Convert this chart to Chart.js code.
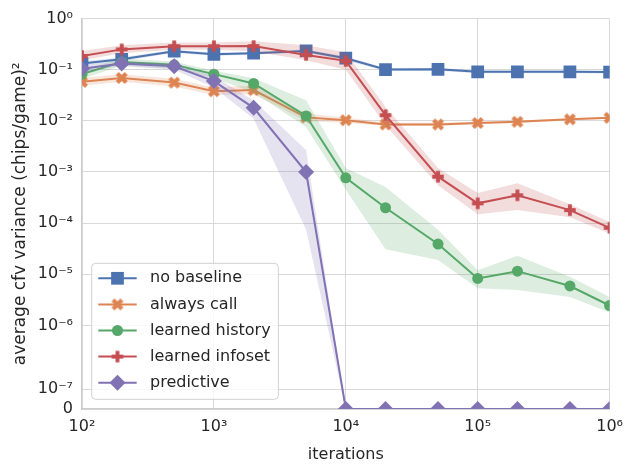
<!DOCTYPE html>
<html>
<head>
<meta charset="utf-8">
<script src="https://cdn.jsdelivr.net/npm/chart.js@4/dist/chart.umd.min.js"></script>
<style>
html, body { margin: 0; padding: 0; background: #ffffff; }
#wrap { width: 631px; height: 464px; }
</style>
</head>
<body>
<div id="wrap"><canvas id="c" width="631" height="464"></canvas></div>
<script>
// ---------------- data ----------------
const iterations = [100, 200, 500, 1000, 2000, 5000, 10000, 20000, 50000, 100000, 200000, 500000, 1000000];

const seriesNames = ['no baseline', 'always call', 'learned history', 'learned infoset', 'predictive'];

const noBaseline     = [0.132, 0.16, 0.23, 0.2, 0.21, 0.233, 0.168, 0.101, 0.102, 0.091, 0.091, 0.091, 0.09];
const noBaselineLow  = [0.118, 0.147, 0.215, 0.187, 0.197, 0.218, 0.152, 0.094, 0.095, 0.085, 0.085, 0.085, 0.084];
const noBaselineHigh = [0.146, 0.174, 0.246, 0.214, 0.224, 0.248, 0.182, 0.108, 0.109, 0.097, 0.097, 0.097, 0.096];

const alwaysCall     = [0.058, 0.069, 0.056, 0.038, 0.04, 0.0117, 0.0103, 0.0085, 0.0085, 0.0091, 0.0096, 0.0107, 0.0115];
const alwaysCallLow  = [0.048, 0.058, 0.047, 0.032, 0.033, 0.0098, 0.0092, 0.0079, 0.0079, 0.0086, 0.0091, 0.0102, 0.011];
const alwaysCallHigh = [0.07, 0.082, 0.067, 0.045, 0.049, 0.014, 0.0116, 0.0092, 0.0092, 0.0097, 0.0102, 0.0113, 0.0121];

const learnedHistory     = [0.082, 0.142, 0.125, 0.082, 0.054, 0.0125, 7.7e-4, 2.0e-4, 3.9e-5, 8.3e-6, 1.15e-5, 5.9e-6, 2.45e-6];
const learnedHistoryLow  = [0.066, 0.12, 0.105, 0.068, 0.036, 0.0076, 4.5e-4, 3.1e-5, 1.9e-5, 5.3e-6, 4.9e-6, 3.6e-6, 1.78e-6];
const learnedHistoryHigh = [0.1, 0.165, 0.145, 0.096, 0.068, 0.0254, 1.2e-3, 5.1e-4, 7.4e-5, 1.2e-5, 2.3e-5, 8.9e-6, 3.6e-6];

const learnedInfoset     = [0.186, 0.25, 0.288, 0.288, 0.29, 0.195, 0.149, 0.0129, 8.1e-4, 2.44e-4, 3.5e-4, 1.8e-4, 8.1e-5];
const learnedInfosetLow  = [0.153, 0.21, 0.245, 0.245, 0.23, 0.153, 0.1, 0.0082, 5.5e-4, 1.5e-4, 1.8e-4, 1.3e-4, 6.3e-5];
const learnedInfosetHigh = [0.233, 0.3, 0.34, 0.34, 0.36, 0.3, 0.22, 0.0187, 1.2e-3, 3.9e-4, 6.0e-4, 2.35e-4, 1.05e-4];

const predictive     = [0.105, 0.132, 0.117, 0.06, 0.018, 1.0e-3, 0, 0, 0, 0, 0, 0, 0];
const predictiveLow  = [0.09, 0.118, 0.1, 0.045, 0.011, 7.4e-5, 0, 0, 0, 0, 0, 0, 0];
const predictiveHigh = [0.12, 0.146, 0.135, 0.075, 0.025, 2.7e-3, 0, 0, 0, 0, 0, 0, 0];

const xTickValues = [1e2, 1e3, 1e4, 1e5, 1e6];
const xTickLabels = ['10²', '10³', '10⁴', '10⁵', '10⁶'];
const yTickValues = [0, 1e-7, 1e-6, 1e-5, 1e-4, 1e-3, 1e-2, 1e-1, 1];
const yTickLabels = ['0', '10⁻⁷', '10⁻⁶', '10⁻⁵', '10⁻⁴', '10⁻³', '10⁻²', '10⁻¹', '10⁰'];

const xTitle = 'iterations';
const yTitle = 'average cfv variance (chips/game)²';

// ---------------- styling ----------------
const FONT = '"DejaVu Sans", "Liberation Sans", sans-serif';
const TEXT = '#262626';
const colors = ['#4C72B0', '#DD8452', '#55A868', '#C44E52', '#8172B3'];
const bandColors = ['rgba(76,114,176,0.2)', 'rgba(221,132,82,0.2)', 'rgba(85,168,104,0.2)', 'rgba(196,78,82,0.2)', 'rgba(129,114,179,0.2)'];

function filledCross(kind, color, size) {
  const c = document.createElement('canvas');
  const s = Math.ceil(size) + 4;
  c.width = s; c.height = s;
  const g = c.getContext('2d');
  g.translate(s / 2, s / 2);
  let u = size / 6;
  if (kind === 'X') { g.rotate(Math.PI / 4); u = size / 5.66; }
  const pts = [[-1,-3],[1,-3],[1,-1],[3,-1],[3,1],[1,1],[1,3],[-1,3],[-1,1],[-3,1],[-3,-1],[-1,-1]];
  g.beginPath();
  pts.forEach(([a, b], i) => i ? g.lineTo(a * u, b * u) : g.moveTo(a * u, b * u));
  g.closePath();
  g.fillStyle = color;
  g.fill();
  return c;
}

const markerStyles = [
  {pointStyle: 'rect', pointRadius: 9},
  {pointStyle: filledCross('X', colors[1], 12), pointRadius: 6},
  {pointStyle: 'circle', pointRadius: 5.5},
  {pointStyle: filledCross('P', colors[3], 11.5), pointRadius: 6},
  {pointStyle: 'rectRot', pointRadius: 8}
];

// ---------------- custom y scale (log above thresholds, compressed near 0) ----------------
class CfvScale extends Chart.Scale {
  _u(v) {
    const o = this.options;
    if (!(v > 0)) return 0;
    if (v < o.linThresh) return o.linSpan * v / o.linThresh;
    if (v < o.midThresh) return o.linSpan + o.midScale * Math.log10(v / o.linThresh);
    return o.linSpan + o.midScale * Math.log10(o.midThresh / o.linThresh) + Math.log10(v / o.midThresh);
  }
  _inv(u) {
    const o = this.options;
    const uMid = o.linSpan + o.midScale * Math.log10(o.midThresh / o.linThresh);
    if (u <= 0) return 0;
    if (u < o.linSpan) return o.linThresh * u / o.linSpan;
    if (u < uMid) return o.linThresh * Math.pow(10, (u - o.linSpan) / o.midScale);
    return o.midThresh * Math.pow(10, u - uMid);
  }
  parse(raw) { return (raw === null || raw === undefined) ? null : +raw; }
  determineDataLimits() {
    const {min, max} = this.getUserBounds();
    this.min = min; this.max = max;
  }
  buildTicks() { return this.options.tickValues.map(v => ({value: v})); }
  configure() {
    super.configure();
    this._uMin = this._u(this.min);
    this._uMax = this._u(this.max);
  }
  getPixelForValue(v) {
    return this.getPixelForDecimal((this._u(v) - this._uMin) / (this._uMax - this._uMin));
  }
  getValueForPixel(p) {
    return this._inv(this._uMin + this.getDecimalForPixel(p) * (this._uMax - this._uMin));
  }
  getPixelForTick(i) { return this.getPixelForValue(this.ticks[i].value); }
  getLabelForValue(v) { return String(v); }
}
CfvScale.id = 'cfv';
CfvScale.defaults = {};
Chart.register(CfvScale);

// ---------------- legend inside plot ----------------
const insideLegend = {
  id: 'insideLegend',
  afterDraw(chart) {
    const ctx = chart.ctx, ca = chart.chartArea;
    ctx.save();
    ctx.font = '16px ' + FONT;
    const tw = Math.max(...seriesNames.map(n => ctx.measureText(n).width));
    const rowH = 26.1;
    const w = 58.5 + tw + 7.5, h = 136;
    const x0 = ca.left + 9.7, y0 = ca.bottom - 9.7 - h;
    const r = 4;
    ctx.beginPath();
    ctx.moveTo(x0 + r, y0);
    ctx.arcTo(x0 + w, y0, x0 + w, y0 + h, r);
    ctx.arcTo(x0 + w, y0 + h, x0, y0 + h, r);
    ctx.arcTo(x0, y0 + h, x0, y0, r);
    ctx.arcTo(x0, y0, x0 + w, y0, r);
    ctx.closePath();
    ctx.fillStyle = 'rgba(255,255,255,0.8)';
    ctx.fill();
    ctx.strokeStyle = '#d0d0d0';
    ctx.lineWidth = 1;
    ctx.stroke();
    seriesNames.forEach((name, i) => {
      const cy = y0 + 15 + i * rowH;
      ctx.strokeStyle = colors[i];
      ctx.lineWidth = 2;
      ctx.beginPath();
      ctx.moveTo(x0 + 6.6, cy);
      ctx.lineTo(x0 + 45, cy);
      ctx.stroke();
      const ms = markerStyles[i];
      ctx.fillStyle = colors[i];
      Chart.helpers.drawPoint(ctx, {pointStyle: ms.pointStyle, radius: ms.pointRadius, borderWidth: 0, rotation: 0}, x0 + 25.8, cy);
      ctx.fillStyle = TEXT;
      ctx.textBaseline = 'middle';
      ctx.textAlign = 'left';
      ctx.fillText(name, x0 + 58.3, cy);
    });
    ctx.restore();
  }
};

// ---------------- datasets ----------------
const mains = [noBaseline, alwaysCall, learnedHistory, learnedInfoset, predictive];
const lows = [noBaselineLow, alwaysCallLow, learnedHistoryLow, learnedInfosetLow, predictiveLow];
const highs = [noBaselineHigh, alwaysCallHigh, learnedHistoryHigh, learnedInfosetHigh, predictiveHigh];
const toXY = arr => iterations.map((x, i) => ({x: x, y: arr[i]}));

const datasets = [];
mains.forEach((vals, s) => {
  const base = 100 - 10 * s;
  datasets.push({
    label: seriesNames[s] + ' low', data: toXY(lows[s]), order: base + 2,
    borderColor: 'transparent', borderWidth: 0, pointRadius: 0, fill: false, backgroundColor: bandColors[s]
  });
  datasets.push({
    label: seriesNames[s] + ' high', data: toXY(highs[s]), order: base + 1,
    borderColor: 'transparent', borderWidth: 0, pointRadius: 0, fill: '-1', backgroundColor: bandColors[s]
  });
  datasets.push({
    label: seriesNames[s], data: toXY(vals), order: base,
    borderColor: colors[s], backgroundColor: colors[s], borderWidth: 2, fill: false,
    pointStyle: markerStyles[s].pointStyle, pointRadius: markerStyles[s].pointRadius,
    pointBorderWidth: 0, pointBackgroundColor: colors[s], tension: 0
  });
});

// ---------------- chart ----------------
new Chart(document.getElementById('c'), {
  type: 'line',
  data: {datasets: datasets},
  plugins: [insideLegend],
  options: {
    responsive: false,
    animation: false,
    events: [],
    layout: {padding: {top: 18, right: 14, left: 0, bottom: 0}},
    plugins: {legend: {display: false}, tooltip: {enabled: false}},
    scales: {
      x: {
        type: 'logarithmic', min: 100, max: 1000000,
        afterBuildTicks: sc => { sc.ticks = xTickValues.map(v => ({value: v, major: true})); },
        afterFit: sc => { sc.height = 55; },
        grid: {color: '#d9d9d9', lineWidth: 1, drawTicks: false},
        border: {color: '#cccccc', width: 1.2},
        ticks: {
          autoSkip: false, maxRotation: 0, padding: 8, color: TEXT,
          font: {family: FONT, size: 16},
          callback: (v) => { const k = xTickValues.indexOf(v); return k >= 0 ? xTickLabels[k] : ''; }
        },
        title: {display: true, text: xTitle, color: TEXT, font: {family: FONT, size: 16}, padding: {top: 0, bottom: 0}}
      },
      y: {
        type: 'cfv', min: 0, max: 1,
        linThresh: 1e-7, linSpan: 0.385, midThresh: 1e-6, midScale: 1.25,
        tickValues: yTickValues,
        afterFit: sc => { sc.width = 82; },
        grid: {color: '#d9d9d9', lineWidth: 1, drawTicks: false},
        border: {color: '#cccccc', width: 1.2},
        ticks: {
          autoSkip: false, padding: 9, color: TEXT,
          font: {family: FONT, size: 16},
          callback: (v) => { const k = yTickValues.indexOf(v); return k >= 0 ? yTickLabels[k] : ''; }
        },
        title: {display: true, text: yTitle, color: TEXT, font: {family: FONT, size: 17}, padding: {top: 10, bottom: 0}}
      }
    }
  }
});
</script>
</body>
</html>
